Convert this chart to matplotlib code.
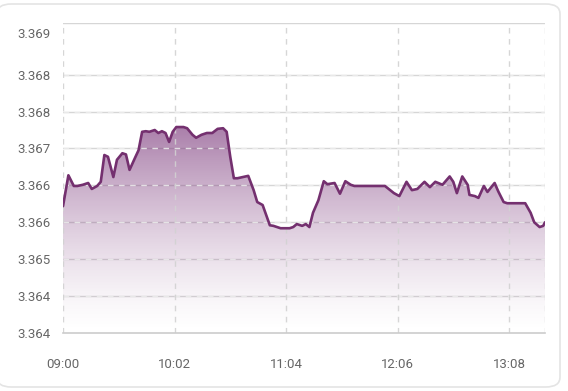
import numpy as np
import matplotlib
matplotlib.use('Agg')
import matplotlib.pyplot as plt
from matplotlib.patches import FancyBboxPatch

plt.rcParams['font.family'] = ['Roboto', 'DejaVu Sans']

# minutes after 09:00 and price
minutes = [0, 3, 6, 8, 11, 14, 16, 19, 21, 23, 25, 28, 30, 33, 35, 37, 40, 42, 44, 46,
           48, 51, 53, 55, 57, 59, 61, 63, 67, 69, 72, 74, 77, 80, 83, 86, 89, 91, 93, 95,
           97, 100, 103, 106, 108, 111, 113, 115, 117, 121, 126, 128, 130, 133, 135, 137, 139, 142, 145, 147,
           151, 154, 157, 160, 162, 179, 184, 187, 191, 194, 197, 201, 204, 207, 211, 215, 217, 219, 222, 225,
           226, 229, 231, 234, 236, 240, 242, 245, 247, 257, 260, 262, 265, 267, 268]
prices = [3.36593, 3.36645, 3.36627, 3.36627, 3.36629, 3.36632, 3.36622, 3.36627, 3.36634, 3.36679,
          3.36676, 3.36642, 3.36671, 3.36682, 3.36680, 3.36654, 3.36674, 3.36687, 3.36718, 3.36719,
          3.36718, 3.36721, 3.36716, 3.36719, 3.36716, 3.36701, 3.36718, 3.36726, 3.36726, 3.36724,
          3.36713, 3.36708, 3.36713, 3.36716, 3.36716, 3.36723, 3.36724, 3.36718, 3.36676, 3.36640,
          3.36640, 3.36642, 3.36644, 3.36620, 3.36600, 3.36595, 3.36578, 3.36561, 3.36560, 3.36556,
          3.36556, 3.36558, 3.36563, 3.36560, 3.36563, 3.36558, 3.36582, 3.36603, 3.36635, 3.36630,
          3.36632, 3.36614, 3.36635, 3.36629, 3.36627, 3.36627, 3.36615, 3.36610, 3.36634, 3.36620,
          3.36622, 3.36634, 3.36625, 3.36634, 3.36629, 3.36643, 3.36634, 3.36615, 3.36643, 3.36629,
          3.36612, 3.36610, 3.36607, 3.36627, 3.36617, 3.36632, 3.36618, 3.36600, 3.36598, 3.36598,
          3.36582, 3.36566, 3.36558, 3.36560, 3.36566]

x_ticks = [0, 62, 124, 186, 248]
x_labels = ['09:00', '10:02', '11:04', '12:06', '13:08']
y_ticks = [3.3638, 3.36442, 3.36504, 3.36566, 3.36628, 3.3669, 3.36752, 3.36814]
y_top_label = 3.36884
y_min, y_max = 3.3638, 3.369008
x_max = 268

line_col = '#74306f'
fill_rgb = (0.50, 0.24, 0.50)

fig = plt.figure(figsize=(5.68, 3.91), dpi=100)
W, H = 568, 391
card = FancyBboxPatch((-3 / W, 4 / H), 563 / W, 383 / H,
                      boxstyle='round,pad=0,rounding_size=0.025',
                      transform=fig.transFigure, facecolor='white',
                      edgecolor='#e4e4e4', linewidth=1.2, zorder=-10)
fig.patches.append(card)

ax = fig.add_axes([63 / W, (H - 333) / H, (545 - 63) / W, (333 - 23) / H])
ax.set_zorder(5)
ax.patch.set_alpha(0)
ax.set_xlim(0, x_max)
ax.set_ylim(y_min, y_max)

# solid horizontal grid under the area
for yv in y_ticks[1:] + [y_max]:
    ax.axhline(yv, color='#d6d6d6', lw=1.0, zorder=0)

# gradient area, fading out towards the bottom
top = max(prices)
grad = np.zeros((256, 2, 4))
grad[:, :, 0] = fill_rgb[0]
grad[:, :, 1] = fill_rgb[1]
grad[:, :, 2] = fill_rgb[2]
grad[:, :, 3] = (0.66 * np.linspace(1, 0, 256) ** 1.4)[:, None]
img = ax.imshow(grad, extent=[0, x_max, y_min, top], aspect='auto', origin='upper', zorder=1)
poly = ax.fill_between(minutes, prices, y_min, color='none', lw=0)
img.set_clip_path(poly.get_paths()[0], transform=ax.transData)

# dashed grid over the area
for yv in y_ticks[1:]:
    ax.axhline(yv, color='#ededed', lw=1.0, ls=(0, (4, 4)), alpha=0.85, zorder=2)
for xv in x_ticks + [x_max]:
    ax.axvline(xv, color='#d2d2d2', lw=1.0, ls=(0, (4, 4)), alpha=0.9, zorder=2)

ax.plot(minutes, prices, color=line_col, lw=1.9, solid_joinstyle='round',
        solid_capstyle='round', zorder=3)

for s in ['left', 'right', 'top']:
    ax.spines[s].set_visible(False)
ax.spines['bottom'].set_color('#cccccc')
ax.spines['bottom'].set_linewidth(1.2)

ax.set_xticks(x_ticks)
ax.set_xticklabels(x_labels)
ax.set_yticks(y_ticks + [y_top_label])
ax.set_yticklabels(['%.3f' % v for v in y_ticks + [y_top_label]])
ax.tick_params(length=0, labelsize=9.5, labelcolor='#666666')
ax.tick_params(axis='y', pad=9)
ax.tick_params(axis='x', pad=18)

plt.savefig('out.png', dpi=100)
